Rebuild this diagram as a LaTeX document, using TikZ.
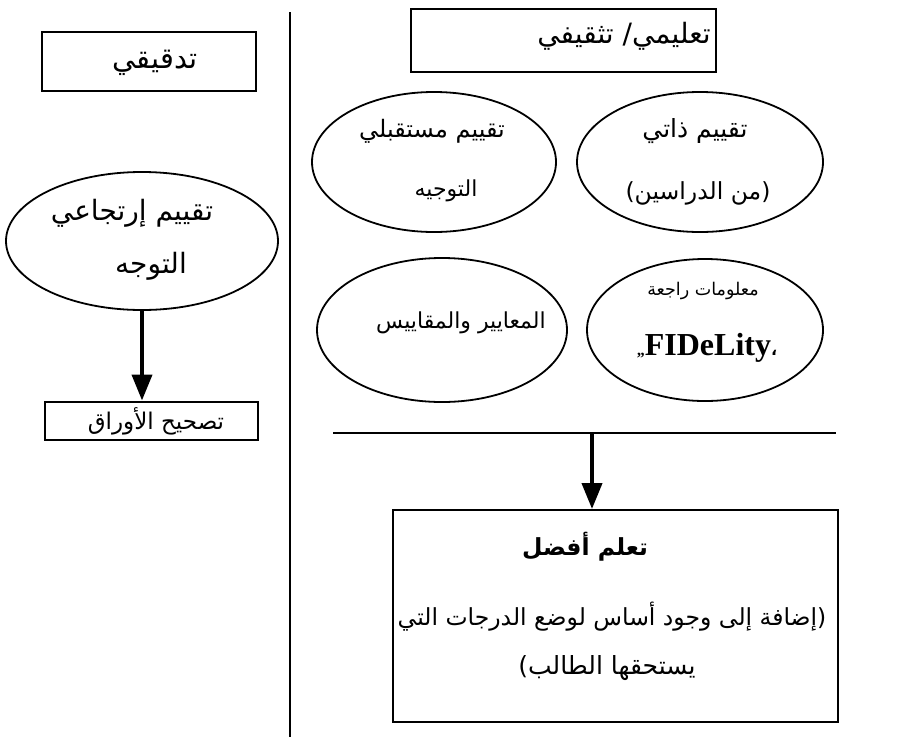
\documentclass[tikz,border=0pt]{standalone}
\usepackage{fontspec}
\usetikzlibrary{shapes.geometric,arrows.meta}
\TeXXeTstate=1
\newfontfamily\arabicfont[Script=Arabic]{DejaVu Sans}
\newfontfamily\latinserif{Liberation Serif}
\newcommand{\ar}[1]{{\arabicfont\beginR #1\endR}}
\newcommand{\fsz}[1]{\fontsize{#1}{#1}\selectfont}

\tikzset{
  boxstyle/.style={draw, line width=2pt, rectangle, inner sep=0pt},
  ovalstyle/.style={draw, line width=1.8pt, ellipse, inner sep=0pt},
  lbl/.style={inner sep=0pt, anchor=center},
  flowarrow/.style={line width=4pt, -{Triangle[width=20pt,length=26pt]}},
  rule/.style={line width=1.8pt}
}

\begin{document}
\begin{tikzpicture}[x=1pt,y=-1pt]
\useasboundingbox[fill=white] (0,0) rectangle (910,750);

% dividing rule between the two columns
\coordinate (vtop) at (290,12);
\coordinate (vbot) at (290,737);
\draw[rule] (vtop) -- (vbot);

% left column
\node[boxstyle, minimum width=214pt, minimum height=59pt] (audit) at (149,61.5) {};
\node[lbl] (auditT) at (155,63) {\fsz{29}\ar{تدقيقي}};

\node[ovalstyle, minimum width=272pt, minimum height=138pt] (retro) at (142,241) {};
\node[lbl] (retro1) at (132,213) {\fsz{28}\ar{تقييم إرتجاعي}};
\node[lbl] (retro2) at (151,266) {\fsz{28}\ar{التوجه}};

\node[boxstyle, minimum width=213pt, minimum height=38pt] (grade) at (151.5,420.5) {};
\node[lbl] (gradeT) at (156,421) {\fsz{23}\ar{تصحيح الأوراق}};

\draw[flowarrow] (retro.south) -- (retro.south |- grade.north);

% right column
\node[boxstyle, minimum width=305pt, minimum height=63pt] (edu) at (563.5,40.5) {};
\node[lbl] (eduT) at (624,36) {\fsz{28}\ar{تعليمي/ تثقيفي}};

\node[ovalstyle, minimum width=244pt, minimum height=140pt] (future) at (434,162) {};
\node[lbl] (future1) at (432,131) {\fsz{24}\ar{تقييم مستقبلي}};
\node[lbl] (future2) at (446,191) {\fsz{22}\ar{التوجيه}};

\node[ovalstyle, minimum width=246pt, minimum height=140pt] (self) at (700,162) {};
\node[lbl] (self1) at (695,131) {\fsz{25}\ar{تقييم ذاتي}};
\node[lbl] (self2) at (698,193) {\fsz{23.5}\ar{(من الدراسين)}};

\node[ovalstyle, minimum width=250pt, minimum height=144pt] (norms) at (442,330) {};
\node[lbl] (normsT) at (461,323) {\fsz{22}\ar{المعايير والمقاييس}};

\node[ovalstyle, minimum width=236pt, minimum height=142pt] (feed) at (705,330) {};
\node[lbl] (feed1) at (703,291) {\fsz{17.5}\ar{معلومات راجعة}};
\node[lbl] (feed2) at (707,348) {{\latinserif\bfseries\fsz{16}„}{\latinserif\bfseries\fsz{32}FIDeLity}{\arabicfont\bfseries\fsz{16}،}};

\coordinate (hl) at (333,433);
\coordinate (hr) at (836,433);
\draw[rule] (hl) -- (hr);
\coordinate (split) at (592,433);

\node[boxstyle, minimum width=445pt, minimum height=212pt] (better) at (615.5,616) {};
\node[lbl] (better1) at (585,547) {\fsz{23.5}\arabicfont\bfseries\beginR تعلم أفضل\endR};
\node[lbl] (better2) at (612,617) {\fsz{23.5}\ar{(إضافة إلى وجود أساس لوضع الدرجات التي}};
\node[lbl] (better3) at (607,668) {\fsz{25}\ar{يستحقها الطالب)}};

\draw[flowarrow] (split) -- (split |- better.north);
\end{tikzpicture}
\end{document}
